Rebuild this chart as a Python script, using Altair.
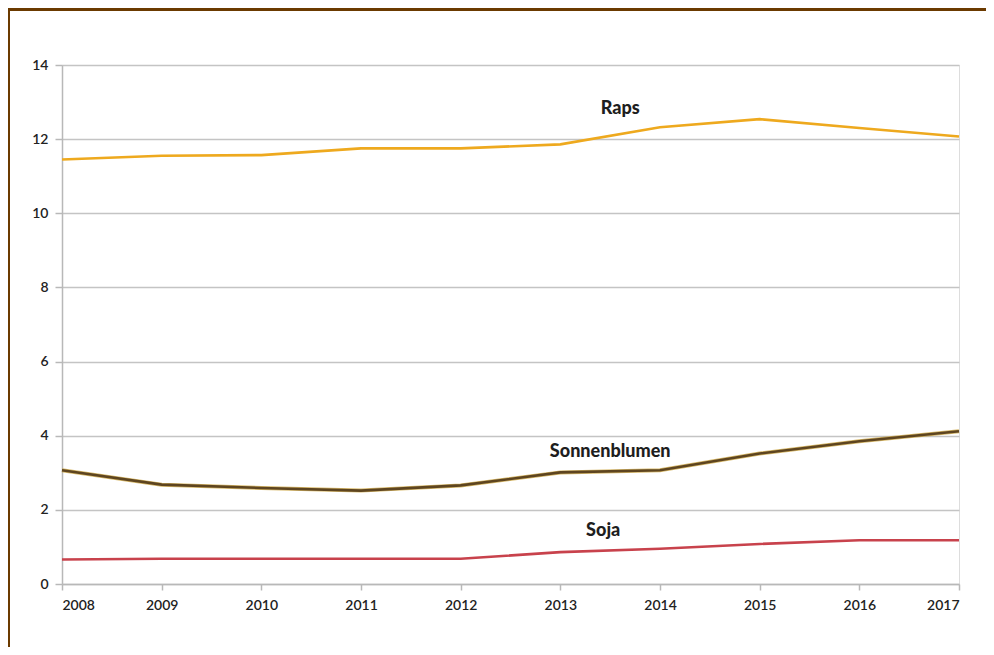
import altair as alt
import pandas as pd

years = [2008, 2009, 2010, 2011, 2012, 2013, 2014, 2015, 2016, 2017]
raps = [11.45, 11.55, 11.57, 11.75, 11.75, 11.86, 12.32, 12.54, 12.30, 12.07]
sonnenblumen = [3.07, 2.68, 2.59, 2.52, 2.66, 3.01, 3.07, 3.52, 3.85, 4.12]
soja = [0.66, 0.68, 0.68, 0.68, 0.68, 0.86, 0.95, 1.08, 1.18, 1.18]

series_names = ["Raps", "Sonnenblumen", "Soja"]
series_colors = ["#EEA91E", "#5E4520", "#C8424C"]

label_text = ["Raps", "Sonnenblumen", "Soja"]
label_x = [2013.6, 2013.5, 2013.43]
label_y = [12.82, 3.55, 1.42]

rows = []
for name, vals in zip(series_names, [raps, sonnenblumen, soja]):
    for y, v in zip(years, vals):
        rows.append({"Jahr": y, "Wert": v, "Serie": name})
df = pd.DataFrame(rows)
labels = pd.DataFrame({"text": label_text, "x": label_x, "y": label_y})

FONT = "Lato"

xscale = alt.Scale(domain=[2008, 2017], nice=False, zero=False)
yscale = alt.Scale(domain=[0, 14], nice=False)

xaxis = alt.Axis(values=years, format="d", title=None, grid=False,
                 domainColor="#B8B8B8", domainWidth=1.5, tickColor="#B8B8B8",
                 tickWidth=1.5, tickSize=6, labelPadding=8, labelFont=FONT,
                 labelFontSize=14, labelFontWeight=600, labelColor="#222222")
yaxis = alt.Axis(values=list(range(0, 15, 2)), title=None, grid=True,
                 gridColor="#C4C4C4", gridWidth=1.5, domainColor="#B8B8B8",
                 domainWidth=1.5, tickColor="#B8B8B8", tickWidth=1.5, tickSize=7,
                 labelPadding=7, labelFont=FONT, labelFontSize=14,
                 labelFontWeight=600, labelColor="#222222")

base = alt.Chart(df).encode(
    x=alt.X("Jahr:Q", scale=xscale, axis=xaxis),
    y=alt.Y("Wert:Q", scale=yscale, axis=yaxis),
)

color = alt.Color("Serie:N", scale=alt.Scale(domain=series_names, range=series_colors), legend=None)

glow = base.transform_filter(alt.datum.Serie == "Sonnenblumen").mark_line(
    strokeWidth=4, color="#C9A035", opacity=0.75)
lines = base.mark_line(strokeWidth=2.6).encode(color=color)

text = alt.Chart(labels).mark_text(font=FONT, fontWeight=900, fontSize=18,
                                   color="#1E1E1E").encode(
    x=alt.X("x:Q", scale=xscale),
    y=alt.Y("y:Q", scale=yscale),
    text="text:N",
)

frame_top = alt.Chart(pd.DataFrame({"k": [0]})).mark_rect(color="#6B3A00").encode(
    x=alt.value(-54), x2=alt.value(924), y=alt.value(-57), y2=alt.value(-54))
frame_left = alt.Chart(pd.DataFrame({"k": [0]})).mark_rect(color="#6B3A00").encode(
    x=alt.value(-54), x2=alt.value(-52), y=alt.value(-57), y2=alt.value(582))

chart = alt.layer(frame_top, frame_left, glow, lines, text).properties(
    width=897, height=519,
    autosize=alt.AutoSizeParams(type="none"),
    padding={"left": 54, "top": 57, "right": 27, "bottom": 63},
).configure_view(stroke=None).configure(background="white")

chart.save("out.html", embed_options={"renderer": "svg", "actions": False})
